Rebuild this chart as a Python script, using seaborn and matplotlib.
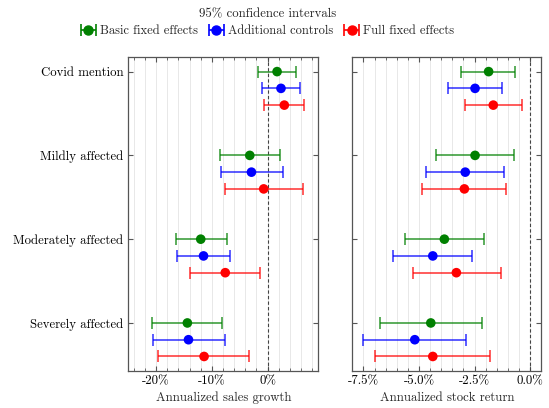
import numpy as np
import pandas as pd
import matplotlib
matplotlib.use("Agg")
import matplotlib.pyplot as plt
from matplotlib.ticker import PercentFormatter, MultipleLocator, FixedLocator
from matplotlib.colors import to_rgba
from matplotlib.legend_handler import HandlerErrorbar
import seaborn as sns

#### data (values in percent) ##################################################
groups = ["Covid mention", "Mildly affected", "Moderately affected", "Severely affected"]
models = ["Basic fixed effects", "Additional controls", "Full fixed effects"]
colors = ["green", "blue", "red"]

# annualized sales growth
sales_basic = [1.7, -3.2, -12.0, -14.4]
sales_basic_lo = [-1.7, -8.6, -16.5, -20.8]
sales_basic_hi = [5.1, 2.3, -7.3, -8.2]
sales_controls = [2.4, -2.9, -11.5, -14.2]
sales_controls_lo = [-0.95, -8.4, -16.25, -20.6]
sales_controls_hi = [5.8, 2.7, -6.8, -7.7]
sales_full = [3.0, -0.7, -7.6, -11.4]
sales_full_lo = [-0.6, -7.6, -13.9, -19.6]
sales_full_hi = [6.5, 6.4, -1.4, -3.3]

# annualized stock return
stock_basic = [-1.87, -2.48, -3.86, -4.47]
stock_basic_lo = [-3.11, -4.23, -5.63, -6.76]
stock_basic_hi = [-0.69, -0.72, -2.09, -2.15]
stock_controls = [-2.48, -2.92, -4.38, -5.19]
stock_controls_lo = [-3.70, -4.68, -6.17, -7.53]
stock_controls_hi = [-1.26, -1.17, -2.60, -2.89]
stock_full = [-1.66, -2.96, -3.32, -4.38]
stock_full_lo = [-2.92, -4.86, -5.28, -6.97]
stock_full_hi = [-0.39, -1.08, -1.33, -1.82]


def long_table(est, lo, hi):
    rows = []
    for m, (e_, l_, h_) in enumerate(zip(est, lo, hi)):
        for g in range(len(groups)):
            rows.append({"model": models[m], "pos": g + 0.2 * m,
                         "est": e_[g], "lo": l_[g], "hi": h_[g]})
    return pd.DataFrame(rows)


sales = long_table([sales_basic, sales_controls, sales_full],
                   [sales_basic_lo, sales_controls_lo, sales_full_lo],
                   [sales_basic_hi, sales_controls_hi, sales_full_hi])
stock = long_table([stock_basic, stock_controls, stock_full],
                   [stock_basic_lo, stock_controls_lo, stock_full_lo],
                   [stock_basic_hi, stock_controls_hi, stock_full_hi])

#### style ####################################################################
sns.set_style("ticks")
plt.rcParams.update({
    "font.family": "cmr10",
    "mathtext.fontset": "cm",
    "axes.unicode_minus": False,
    "font.size": 9.2,
    "axes.edgecolor": "#555555",
    "axes.linewidth": 0.9,
    "xtick.direction": "in", "ytick.direction": "in",
    "xtick.top": True, "ytick.right": True,
    "xtick.color": "#555555", "ytick.color": "#555555",
    "xtick.labelcolor": "black", "ytick.labelcolor": "black",
    "xtick.major.size": 3.5, "xtick.minor.size": 2,
    "ytick.major.size": 3.5,
    "xtick.labelsize": 9.2, "ytick.labelsize": 9.2,
})

palette = dict(zip(models, colors))

fig = plt.figure(figsize=(5.49, 4.08), dpi=100)
ax1 = fig.add_axes([0.2337, 0.0914, 0.3461, 0.768])
ax2 = fig.add_axes([0.6417, 0.0914, 0.3443, 0.768])


def draw_panel(ax, df, xlim, major, minor, decimals, xlabel):
    for x in np.arange(xlim[0] - xlim[0] % minor, xlim[1], minor):
        ax.axvline(x, color="#e8e8e8", lw=0.7, zorder=0)
    ax.axvline(0, color="#444444", lw=0.8, ls=(0, (3, 2)), zorder=1)
    for m, c in zip(models, colors):
        d = df[df["model"] == m]
        ax.errorbar(d["est"], d["pos"], xerr=[d["est"] - d["lo"], d["hi"] - d["est"]],
                    fmt="none", ecolor=to_rgba(c, 0.75), elinewidth=1.2,
                    capsize=4.5, capthick=1.2, zorder=2)
    sns.scatterplot(data=df, x="est", y="pos", hue="model", palette=palette,
                    s=48, linewidth=0, legend=False, ax=ax, zorder=3)
    ax.set_xlim(*xlim)
    ax.set_ylim(3.57, -0.17)
    ax.xaxis.set_major_locator(MultipleLocator(major))
    ax.xaxis.set_minor_locator(MultipleLocator(minor))
    ax.xaxis.set_major_formatter(PercentFormatter(100, decimals=decimals))
    ax.yaxis.set_major_locator(FixedLocator(range(len(groups))))
    ax.set_xlabel(xlabel, fontsize=9.2, labelpad=3)
    ax.set_ylabel("")


draw_panel(ax1, sales, (-25.0, 9.1), 10, 2, 0, "Annualized sales growth")
draw_panel(ax2, stock, (-8.0, 0.5), 2.5, 0.5, 1, "Annualized stock return")
ax1.set_yticklabels(groups)
ax2.set_yticklabels([])

# legend handles drawn on an invisible axes
lax = fig.add_axes([0, 0, 0.001, 0.001])
lax.set_axis_off()
handles = []
for m, c in zip(models, colors):
    h = lax.errorbar([0], [0], xerr=[[1], [1]], fmt="o", color=c, ms=6.5,
                     elinewidth=1.2, capsize=4.5, capthick=1.2, label=m)
    handles.append(h)

leg = fig.legend(handles, models, loc="center", bbox_to_anchor=(0.487, 0.944),
                 ncol=3, frameon=False, title="95% confidence intervals",
                 fontsize=9.0, title_fontsize=9.2, handlelength=1.3,
                 handletextpad=0.3, columnspacing=0.8, borderpad=0.1,
                 labelspacing=0.4,
                 handler_map={type(handles[0]): HandlerErrorbar(xerr_size=0.6)})

fig.savefig("out.png", dpi=100)
